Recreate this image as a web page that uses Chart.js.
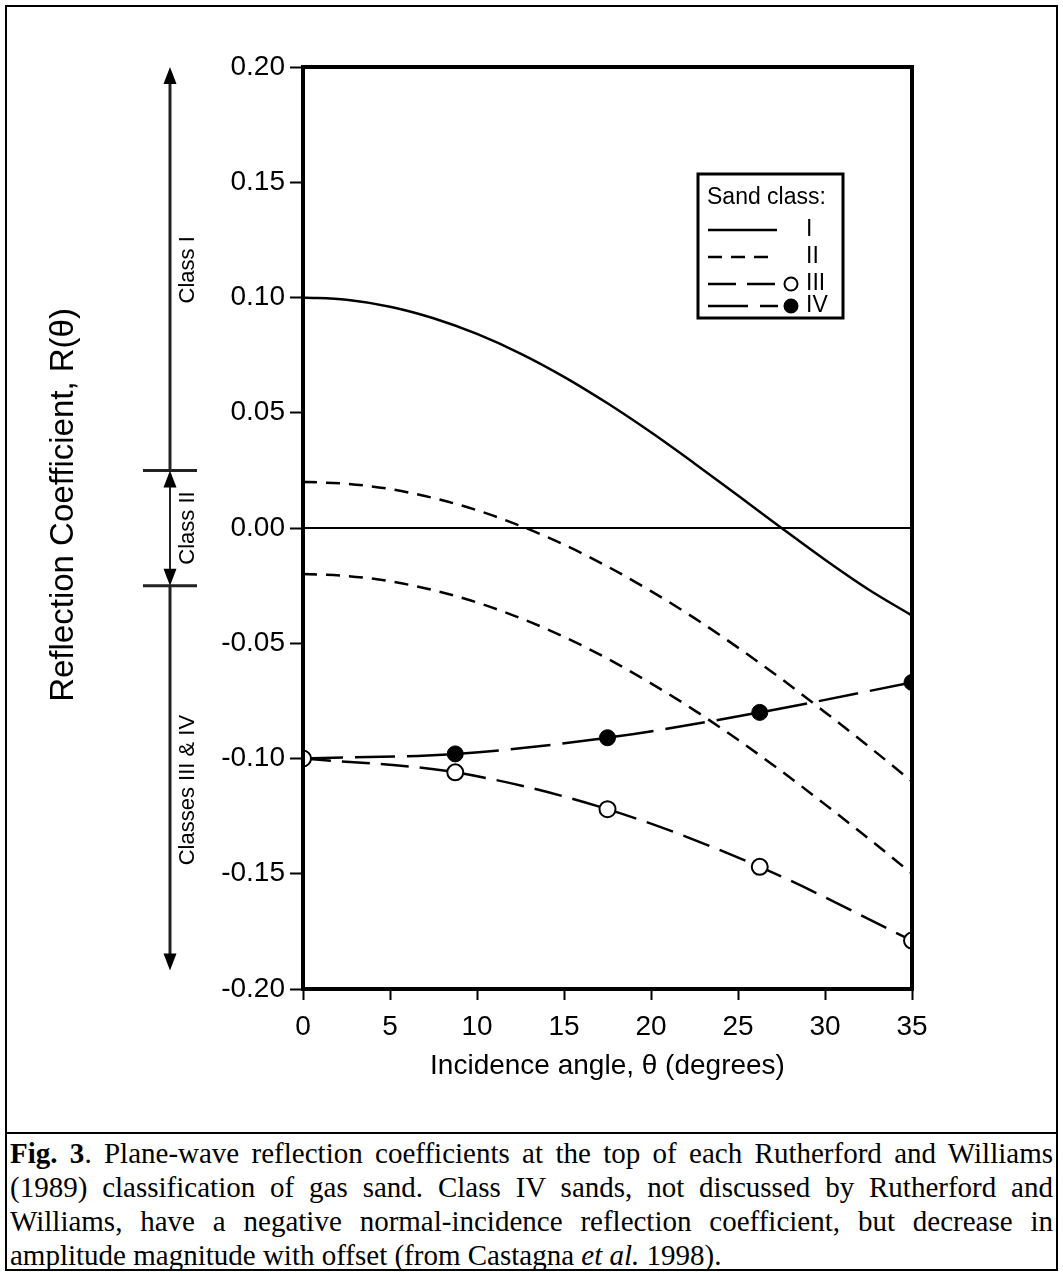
<!DOCTYPE html>
<html>
<head>
<meta charset="utf-8">
<title>Sand class reflection coefficients</title>
<script src="https://cdn.jsdelivr.net/npm/chart.js@4.4.1/dist/chart.umd.min.js"></script>
<style>
  body { margin: 0; background: #fff; }
  #frame { position: absolute; left: 5px; top: 5px; width: 1049px; height: 1262px; border: 2px solid #000; }
  #wrap { position: absolute; left: 0; top: 0; width: 1063px; height: 1130px; }
  #sep { position: absolute; left: 5px; top: 1132px; width: 1053px; border-top: 2px solid #000; }
  #caption { position: absolute; left: 10px; top: 1136px; width: 1043px;
             font: 29px/34px "Liberation Serif", "Times New Roman", serif; color: #000; }
  #caption .j { text-align: justify; text-align-last: justify; }
</style>
</head>
<body>
<div id="frame"></div>
<div id="wrap"><canvas id="chart"></canvas></div>
<div id="sep"></div>
<div id="caption">
  <div class="j"><b>Fig. 3</b>. Plane-wave reflection coefficients at the top of each Rutherford and Williams</div>
  <div class="j">(1989) classification of gas sand. Class IV sands, not discussed by Rutherford and</div>
  <div class="j">Williams, have a negative normal-incidence reflection coefficient, but decrease in</div>
  <div>amplitude magnitude with offset (from Castagna <i>et al.</i> 1998).</div>
</div>
<script>
// values
const angles = [0, 2.5, 5, 7.5, 10, 12.5, 15, 17.5, 20, 22.5, 25, 27.5, 30, 32.5, 35];
const classI = [0.1000, 0.0990, 0.0960, 0.0910, 0.0842, 0.0757, 0.0656, 0.0541, 0.0415, 0.0280, 0.0141, 0.0000, -0.0138, -0.0267, -0.0380];
const classIIupper = [0.0200, 0.0192, 0.0169, 0.0130, 0.0077, 0.0009, -0.0072, -0.0167, -0.0274, -0.0391, -0.0519, -0.0655, -0.0799, -0.0947, -0.1100];
const classIIlower = [-0.0200, -0.0208, -0.0231, -0.0270, -0.0323, -0.0391, -0.0472, -0.0567, -0.0674, -0.0791, -0.0919, -0.1055, -0.1199, -0.1347, -0.1500];
const markerAngles = [0, 8.75, 17.5, 26.25, 35];
const classIII = [-0.100, -0.106, -0.122, -0.147, -0.179];
const classIV = [-0.100, -0.098, -0.091, -0.080, -0.067];
const xTicks = [0, 5, 10, 15, 20, 25, 30, 35];
const yTicks = [-0.20, -0.15, -0.10, -0.05, 0.00, 0.05, 0.10, 0.15, 0.20];

const FONT = '"Liberation Sans", Arial, Helvetica, sans-serif';

function pts(xs, ys) {
    return xs.map((x, i) => ({ x: x, y: ys[i] }));
}

// top/right frame + zero line + small inner ticks
const framePlugin = {
    id: 'frame',
    afterDatasetsDraw(chart) {
        const ctx = chart.ctx, a = chart.chartArea, y = chart.scales.y;
        ctx.save();
        ctx.strokeStyle = '#000';
        ctx.lineWidth = 2;
        ctx.beginPath();
        ctx.moveTo(a.left, y.getPixelForValue(0));
        ctx.lineTo(a.right, y.getPixelForValue(0));
        ctx.stroke();
        [0.02, -0.02].forEach(v => {
            ctx.beginPath();
            ctx.moveTo(a.left, y.getPixelForValue(v));
            ctx.lineTo(a.left + 12, y.getPixelForValue(v));
            ctx.stroke();
        });
        ctx.lineWidth = 4;
        ctx.strokeRect(a.left, a.top, a.right - a.left, a.bottom - a.top);
        ctx.restore();
    }
};

function head(ctx, x, y, dir) {
    ctx.beginPath();
    ctx.moveTo(x, y);
    ctx.lineTo(x - 6.5, y - dir * 17);
    ctx.lineTo(x + 6.5, y - dir * 17);
    ctx.closePath();
    ctx.fill();
}

// class ranges drawn left of the axis, plus the y title
const classPlugin = {
    id: 'classes',
    afterDraw(chart) {
        const ctx = chart.ctx, y = chart.scales.y;
        const ax = 170;
        const yTop = y.getPixelForValue(0.20), yB1 = y.getPixelForValue(0.025);
        const yB2 = y.getPixelForValue(-0.025), yBot = y.getPixelForValue(-0.192);
        ctx.save();
        ctx.strokeStyle = '#222';
        ctx.fillStyle = '#000';
        ctx.lineWidth = 3;
        ctx.beginPath();
        ctx.moveTo(ax, yB1); ctx.lineTo(ax, yTop + 10);
        ctx.moveTo(ax, yB2); ctx.lineTo(ax, yBot - 10);
        ctx.moveTo(143, yB1); ctx.lineTo(197, yB1);
        ctx.moveTo(143, yB2); ctx.lineTo(197, yB2);
        ctx.stroke();
        ctx.lineWidth = 2;
        ctx.beginPath();
        ctx.moveTo(ax, yB1 + 10); ctx.lineTo(ax, yB2 - 10);
        ctx.stroke();
        head(ctx, ax, yTop, -1);
        head(ctx, ax, yBot, 1);
        head(ctx, ax, yB1, -1);
        head(ctx, ax, yB2, 1);

        ctx.font = '22px ' + FONT;
        ctx.textAlign = 'center';
        ctx.textBaseline = 'middle';
        [['Class I', 0.112], ['Class II', 0.0], ['Classes III & IV', -0.1137]].forEach(([t, v]) => {
            ctx.save();
            ctx.translate(188, y.getPixelForValue(v));
            ctx.rotate(-Math.PI / 2);
            ctx.fillText(t, 0, 0);
            ctx.restore();
        });

        ctx.font = '33px ' + FONT;
        ctx.save();
        ctx.translate(64, y.getPixelForValue(0.01));
        ctx.rotate(-Math.PI / 2);
        ctx.fillText('Reflection Coefficient, R(\u03b8)', 0, 0);
        ctx.restore();
        ctx.restore();
    }
};

// boxed legend in the upper right
const legendPlugin = {
    id: 'sandLegend',
    afterDraw(chart) {
        const ctx = chart.ctx;
        const box = { left: 698, top: 174, right: 843, bottom: 318 };
        ctx.save();
        ctx.fillStyle = '#fff';
        ctx.fillRect(box.left, box.top, box.right - box.left, box.bottom - box.top);
        ctx.strokeStyle = '#000';
        ctx.lineWidth = 3;
        ctx.strokeRect(box.left, box.top, box.right - box.left, box.bottom - box.top);
        ctx.font = '23px ' + FONT;
        ctx.fillStyle = '#000';
        ctx.textBaseline = 'middle';
        ctx.textAlign = 'left';
        ctx.fillText('Sand class:', 707, 198);
        const rows = [
            { ds: 0, label: 'I', y: 230, end: 777 },
            { ds: 1, label: 'II', y: 257, end: 777 },
            { ds: 3, label: 'III', y: 284, end: 778 },
            { ds: 4, label: 'IV', y: 306, end: 778 }
        ];
        rows.forEach(r => {
            const d = chart.data.datasets[r.ds];
            ctx.save();
            ctx.strokeStyle = '#000';
            ctx.lineWidth = 2.5;
            ctx.setLineDash(d.borderDash || []);
            ctx.beginPath();
            ctx.moveTo(708, r.y);
            ctx.lineTo(r.end, r.y);
            ctx.stroke();
            ctx.restore();
            if (d.pointRadius) {
                ctx.beginPath();
                ctx.arc(791, r.y, 6.5, 0, Math.PI * 2);
                ctx.fillStyle = d.pointBackgroundColor;
                ctx.fill();
                ctx.lineWidth = 2;
                ctx.strokeStyle = '#000';
                ctx.stroke();
                ctx.fillStyle = '#000';
            }
            ctx.fillText(r.label, 806, r.y);
        });
        ctx.restore();
    }
};

const lineBase = {
    borderColor: '#000',
    borderWidth: 2.5,
    pointRadius: 0,
    fill: false,
    clip: 0,
    cubicInterpolationMode: 'monotone'
};

const chart = new Chart(document.getElementById('chart'), {
    type: 'line',
    data: {
        datasets: [
            Object.assign({}, lineBase, { label: 'I', data: pts(angles, classI) }),
            Object.assign({}, lineBase, { label: 'II', data: pts(angles, classIIupper), borderDash: [14, 9] }),
            Object.assign({}, lineBase, { label: 'II', data: pts(angles, classIIlower), borderDash: [14, 9] }),
            Object.assign({}, lineBase, {
                label: 'III', data: pts(markerAngles, classIII), borderDash: [28, 11],
                pointRadius: 8, pointBorderWidth: 2, pointBorderColor: '#000', pointBackgroundColor: '#fff'
            }),
            Object.assign({}, lineBase, {
                label: 'IV', data: pts(markerAngles, classIV), borderDash: [40, 12],
                pointRadius: 8, pointBorderWidth: 1, pointBorderColor: '#000', pointBackgroundColor: '#000'
            })
        ]
    },
    options: {
        responsive: true,
        maintainAspectRatio: false,
        animation: false,
        layout: { padding: { left: 41, right: 151, top: 67, bottom: 43 } },
        plugins: { legend: { display: false }, tooltip: { enabled: false } },
        scales: {
            x: {
                type: 'linear',
                min: 0,
                max: 35,
                afterBuildTicks: s => { s.ticks = xTicks.map(v => ({ value: v })); },
                afterFit: s => { s.height = 98; },
                ticks: { color: '#000', font: { family: FONT, size: 28 }, padding: 10, maxRotation: 0 },
                grid: { drawOnChartArea: false, drawTicks: true, tickLength: 11, tickWidth: 2, tickColor: '#000' },
                border: { display: true, width: 4, color: '#000' },
                title: { display: true, text: 'Incidence angle, \u03b8 (degrees)', color: '#000', font: { family: FONT, size: 28 } }
            },
            y: {
                type: 'linear',
                min: -0.2,
                max: 0.2,
                afterBuildTicks: s => { s.ticks = yTicks.map(v => ({ value: v })); },
                afterFit: s => { s.width = 262; },
                ticks: {
                    color: '#000', font: { family: FONT, size: 28 }, padding: 5,
                    callback: v => (Math.abs(v) < 1e-9 ? '0.00' : v.toFixed(2))
                },
                grid: { drawOnChartArea: false, drawTicks: true, tickLength: 13, tickWidth: 2, tickColor: '#000' },
                border: { display: true, width: 4, color: '#000' },
                title: { display: false }
            }
        }
    },
    plugins: [framePlugin, classPlugin, legendPlugin]
});
</script>
</body>
</html>
